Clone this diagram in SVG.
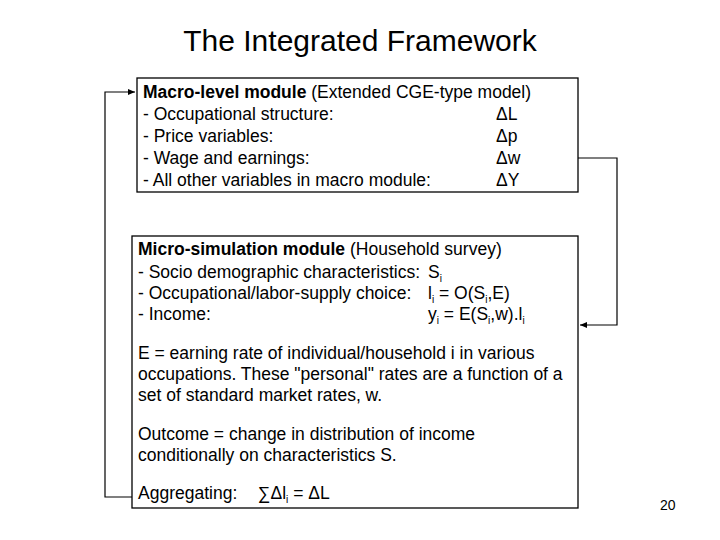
<svg xmlns="http://www.w3.org/2000/svg" width="720" height="540" viewBox="0 0 720 540">
<style>
text{font-family:"Liberation Sans",Arial,sans-serif;font-size:17.5px;fill:#000}
.box{fill:#fff;stroke:#000;stroke-width:1.3}
.c{fill:none;stroke:#000;stroke-width:1.2}
.b{font-weight:bold}
.s{font-size:10px}
</style>
<defs><marker id="a" markerWidth="8" markerHeight="8" refX="7" refY="4" orient="auto" markerUnits="userSpaceOnUse"><path d="M0,1L7,4L0,7z"/></marker></defs>
<rect width="720" height="540" fill="#fff"/>
<text x="360" y="51" text-anchor="middle" style="font-size:30px">The Integrated Framework</text>
<g id="connectors">
<path class="c" d="M578,158H617V325H580" marker-end="url(#a)"/>
<path class="c" d="M132,497H105V92H135" marker-end="url(#a)"/>
</g>
<g id="macro">
<rect class="box" x="137" y="78" width="441" height="114"/>
<text x="143" y="98"><tspan class="b">Macro-level module</tspan> (Extended CGE-type model)</text>
<text x="143" y="120">- Occupational structure:</text><text x="496" y="120">ΔL</text>
<text x="143" y="142">- Price variables:</text><text x="496" y="142">Δp</text>
<text x="143" y="164">- Wage and earnings:</text><text x="496" y="164">Δw</text>
<text x="143" y="186">- All other variables in macro module:</text><text x="496" y="186">ΔY</text>
</g>
<g id="micro">
<rect class="box" x="132" y="236" width="446" height="272"/>
<text x="138" y="255"><tspan class="b">Micro-simulation module</tspan> (Household survey)</text>
<text x="138" y="278">- Socio demographic characteristics:</text><text x="428" y="278">S<tspan dy="4" class="s">i</tspan></text>
<text x="138" y="299">- Occupational/labor-supply choice:</text><text x="428" y="299">l<tspan dy="4" class="s">i</tspan><tspan dy="-4"> = O(S</tspan><tspan dy="4" class="s">i</tspan><tspan dy="-4">,E)</tspan></text>
<text x="138" y="320">- Income:</text><text x="428" y="320">y<tspan dy="4" class="s">i</tspan><tspan dy="-4"> = E(S</tspan><tspan dy="4" class="s">i</tspan><tspan dy="-4">,w).l</tspan><tspan dy="4" class="s">i</tspan></text>
<text x="138" y="359">E = earning rate of individual/household i in various</text>
<text x="138" y="380">occupations. These "personal" rates are a function of a</text>
<text x="138" y="401">set of standard market rates, w.</text>
<text x="138" y="440">Outcome = change in distribution of income</text>
<text x="138" y="461">conditionally on characteristics S.</text>
<text x="138" y="499">Aggregating:</text><text x="258" y="499">∑Δl<tspan dy="4" class="s">i</tspan><tspan dy="-4"> = ΔL</tspan></text>
</g>
<text x="660" y="510" style="font-size:14px">20</text>
</svg>
